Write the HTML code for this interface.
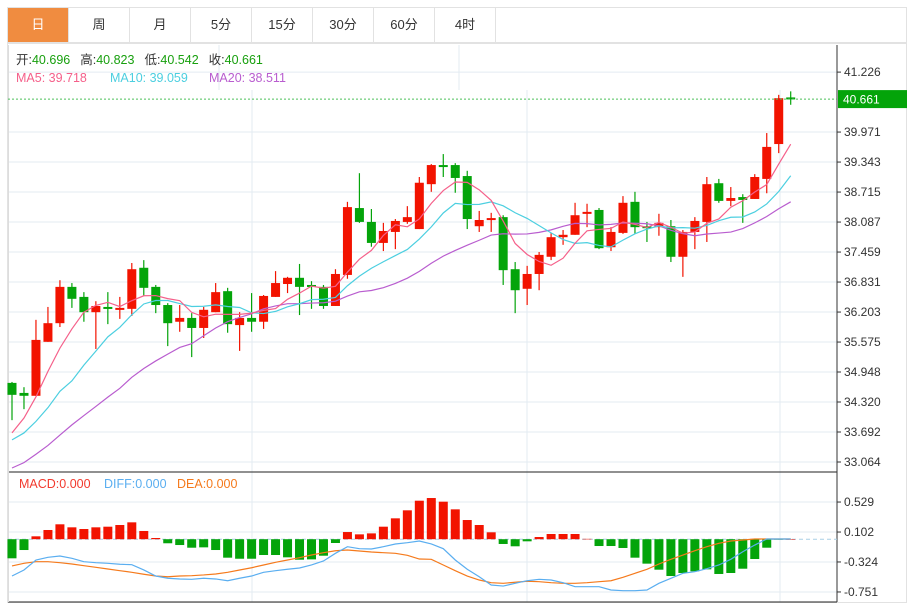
<!DOCTYPE html>
<html><head><meta charset="utf-8">
<style>
body{margin:0;width:918px;height:604px;background:#fff;overflow:hidden;font-family:"Liberation Sans","Noto Sans CJK SC",sans-serif;}
#tabs{position:absolute;left:7px;top:7px;height:36px;width:900px;border:1px solid #e2e2e2;box-sizing:border-box;display:flex;}
.tab{width:61px;height:34px;line-height:34px;text-align:center;font-size:13px;color:#333;border-right:1px solid #e2e2e2;box-sizing:border-box;cursor:pointer;}
.tab.active{background:#f08c40;color:#fff;}
svg{position:absolute;left:0;top:0;}
</style></head><body>
<div id="tabs">
<div class="tab active">日</div>
<div class="tab">周</div>
<div class="tab">月</div>
<div class="tab">5分</div>
<div class="tab">15分</div>
<div class="tab">30分</div>
<div class="tab">60分</div>
<div class="tab">4时</div>
</div>
<svg id="chart" width="918" height="604"></svg>
<script>
const opens=[34.72,34.51,34.45,35.58,35.97,36.73,36.52,36.20,36.31,36.27,36.27,37.13,36.73,36.35,36.00,36.08,35.87,36.20,36.64,35.93,36.08,36.00,36.52,36.79,36.92,36.77,36.73,36.33,36.98,38.38,38.09,37.65,37.88,38.09,37.94,38.88,39.28,39.28,39.05,38.00,38.13,38.19,37.10,36.69,37.00,37.36,37.77,37.82,38.26,38.34,37.56,37.86,38.51,38.00,37.98,38.00,37.36,37.88,38.09,38.90,38.53,38.61,38.57,38.99,39.72,40.696];
const closes=[34.47,34.45,35.62,35.97,36.73,36.48,36.20,36.33,36.29,36.29,37.10,36.71,36.35,35.97,36.08,35.87,36.25,36.62,35.95,36.08,36.00,36.54,36.81,36.92,36.73,36.73,36.33,37.00,38.40,38.09,37.65,37.90,38.11,38.19,38.91,39.28,39.24,39.01,38.15,38.13,38.17,37.08,36.66,37.00,37.40,37.77,37.82,38.23,38.30,37.54,37.88,38.49,37.98,37.98,38.07,37.36,37.88,38.11,38.88,38.53,38.59,38.55,39.03,39.66,40.68,40.661];
const highs=[34.74,34.63,36.04,36.31,36.87,36.81,36.62,36.43,36.62,36.52,37.23,37.29,36.77,36.39,36.35,36.18,36.31,36.81,36.71,36.20,36.60,36.56,37.06,36.94,37.21,36.85,36.77,37.10,38.51,39.11,38.36,38.07,38.15,38.42,39.03,39.30,39.51,39.32,39.16,38.32,38.28,38.23,37.25,37.17,37.46,37.86,37.92,38.49,38.47,38.38,37.98,38.63,38.72,38.09,38.26,38.13,37.92,38.19,39.03,38.99,38.82,38.67,39.09,39.95,40.75,40.823];
const lows=[33.94,34.17,34.45,35.58,35.89,36.29,36.00,35.43,35.95,36.06,36.12,36.54,36.18,35.49,35.79,35.26,35.66,36.20,35.77,35.39,35.79,35.85,36.52,36.60,36.14,36.27,36.27,36.33,36.90,38.07,37.57,37.48,37.52,38.05,37.94,38.72,39.03,38.70,37.94,37.88,37.88,36.77,36.18,36.35,36.66,37.29,37.61,37.82,37.98,37.52,37.48,37.84,37.84,37.67,37.80,37.25,36.94,37.52,37.67,38.49,38.42,38.07,38.57,38.69,39.53,40.542];
const historyCloses=[32.2,32.1,32.3,32.4,32.2,32.3,32.5,32.4,32.6,32.5,33.0,33.2,33.1,33.3,34.3,32.9,33.4,33.3,34.3];
const priceTicks=[41.226,39.971,39.343,38.715,38.087,37.459,36.831,36.203,35.575,34.948,34.320,33.692,33.064];
const macdBars=[-0.272,-0.154,0.041,0.131,0.212,0.169,0.145,0.169,0.178,0.202,0.240,0.117,0.017,-0.058,-0.083,-0.121,-0.116,-0.154,-0.263,-0.278,-0.278,-0.225,-0.225,-0.258,-0.292,-0.287,-0.235,-0.054,0.102,0.069,0.083,0.178,0.297,0.411,0.548,0.586,0.534,0.425,0.273,0.202,0.098,-0.068,-0.101,-0.030,0.031,0.074,0.074,0.074,0.005,-0.097,-0.097,-0.125,-0.263,-0.348,-0.434,-0.524,-0.481,-0.457,-0.429,-0.495,-0.481,-0.420,-0.282,-0.121,-0.005,0.000];
const diffLine=[-0.524,-0.438,-0.296,-0.258,-0.239,-0.272,-0.320,-0.334,-0.343,-0.357,-0.363,-0.438,-0.524,-0.556,-0.566,-0.571,-0.556,-0.566,-0.591,-0.556,-0.524,-0.471,-0.448,-0.428,-0.410,-0.367,-0.310,-0.201,-0.107,-0.135,-0.139,-0.107,-0.068,-0.050,-0.026,-0.068,-0.135,-0.296,-0.428,-0.534,-0.652,-0.667,-0.628,-0.591,-0.571,-0.581,-0.619,-0.676,-0.676,-0.676,-0.723,-0.733,-0.733,-0.723,-0.628,-0.556,-0.485,-0.462,-0.420,-0.367,-0.286,-0.178,-0.083,0.003,0.003,0.003];
const deaLine=[-0.381,-0.343,-0.320,-0.320,-0.334,-0.353,-0.377,-0.400,-0.424,-0.448,-0.471,-0.499,-0.524,-0.534,-0.524,-0.519,-0.509,-0.495,-0.471,-0.438,-0.406,-0.367,-0.329,-0.296,-0.263,-0.225,-0.192,-0.164,-0.154,-0.168,-0.182,-0.192,-0.201,-0.229,-0.282,-0.286,-0.367,-0.448,-0.524,-0.581,-0.619,-0.628,-0.613,-0.599,-0.605,-0.619,-0.628,-0.628,-0.619,-0.605,-0.591,-0.542,-0.485,-0.428,-0.353,-0.286,-0.225,-0.164,-0.107,-0.058,-0.026,-0.011,0.003,0.003,0.003,0.003];
const macdTicks=[0.529,0.102,-0.324,-0.751];

const NS='http://www.w3.org/2000/svg';
const svg=document.getElementById('chart');
function el(tag,attrs,parent){const e=document.createElementNS(NS,tag);for(const k in attrs)e.setAttribute(k,attrs[k]);(parent||svg).appendChild(e);return e;}
const PL=8,PR=837,PT=45,PB=472,MT=472,MB=602;
const xAt=i=>12+i*11.98;
const yP=v=>462-(v-33.064)*47.77;
const yM=v=>539.2-v*70.26;

// frame & grid
const grid=el('g',{});


[219,459].forEach(x=>el('line',{x1:x,x2:x,y1:PT,y2:90,stroke:'#e3ebf2'},grid));
[252,527,780].forEach(x=>{el('line',{x1:x,x2:x,y1:90,y2:PB,stroke:'#e3ebf2'},grid);el('line',{x1:x,x2:x,y1:MT,y2:MB,stroke:'#e3ebf2'},grid);});
priceTicks.forEach(t=>el('line',{x1:PL,x2:PR,y1:yP(t),y2:yP(t),stroke:'#e3ebf2'},grid));
macdTicks.forEach(t=>el('line',{x1:PL,x2:PR,y1:yM(t),y2:yM(t),stroke:'#e3ebf2'},grid));
el('rect',{x:7.5,y:43.5,width:899,height:559,fill:'none',stroke:'#e2e2e2'});
el('line',{x1:PL,x2:PR,y1:472,y2:472,stroke:'#222'});
el('line',{x1:PL,x2:PR,y1:602,y2:602,stroke:'#222'});
el('line',{x1:PR,x2:PR,y1:PT,y2:MB,stroke:'#333'});
el('line',{x1:8.5,x2:8.5,y1:PT,y2:MB,stroke:'#ddd'});

// price axis
const pax=el('g',{});


priceTicks.forEach(t=>{const y=yP(t);el('line',{x1:PR,x2:PR+4,y1:y,y2:y,stroke:'#333'},pax);const tx=el('text',{x:PR+7,y:y+4,'font-size':12,fill:'#333'},pax);tx.textContent=t.toFixed(3);});
const max=el('g',{});


macdTicks.forEach(t=>{const y=yM(t);el('line',{x1:PR,x2:PR+4,y1:y,y2:y,stroke:'#333'},max);const tx=el('text',{x:PR+7,y:y+4,'font-size':12,fill:'#333'},max);tx.textContent=t.toFixed(3);});

// moving averages
const allC=historyCloses.concat(closes);
function ma(n){return closes.map((c,i)=>{const j=i+historyCloses.length;let s=0;for(let k=j-n+1;k<=j;k++)s+=allC[k];return s/n;});}
function line(vals,yf,color,name){const p=el('polyline',{points:vals.map((v,i)=>xAt(i)+','+yf(v)).join(' '),fill:'none',stroke:color,'stroke-width':1.2});


return p;}

// candles
const cg=el('g',{});


opens.forEach((o,i)=>{const c=closes[i];const up=c>=o;const col=up?'#f21300':'#04a40a';const x=xAt(i);
const g=el('g',{},cg);


el('line',{x1:x,x2:x,y1:yP(highs[i]),y2:yP(lows[i]),stroke:col,'stroke-width':1.2},g);
const top=Math.min(yP(o),yP(c)),h=Math.max(2,Math.abs(yP(o)-yP(c)));
el('rect',{x:x-4.5,y:top,width:9,height:h,fill:col},g);});

line(ma(20),yP,'#b95dcf','ma20-line');
line(ma(10),yP,'#4ccfe0','ma10-line');
line(ma(5),yP,'#f5608a','ma5-line');

// last price
const last=closes[closes.length-1];
el('line',{x1:PL,x2:PR,y1:yP(last),y2:yP(last),stroke:'#4cc05a','stroke-dasharray':'2,2'});
const lb=el('rect',{x:838,y:yP(last)-9,width:69,height:18,fill:'#04a40a'});


const lt=el('text',{x:843,y:yP(last)+4.5,'font-size':12,fill:'#fff'});lt.textContent=last.toFixed(3);

// macd
const mg=el('g',{});


el('line',{x1:PL,x2:PR,y1:yM(0),y2:yM(0),stroke:'#a9cfe6','stroke-dasharray':'4,3'},mg);
macdBars.forEach((v,i)=>{const y0=yM(0),y1=yM(v);
const r=el('rect',{x:xAt(i)-4.5,y:Math.min(y0,y1),width:9,height:Math.max(0.5,Math.abs(y1-y0)),fill:v>=0?'#f21300':'#04a40a'},mg);

});
line(deaLine,yM,'#f57a1c','dea-line');
line(diffLine,yM,'#5aaef0','diff-line');

// legends
function txt(x,y,s,col,name){const t=el('text',{x:x,y:y,'font-size':12.5,fill:col});t.textContent=s;

return t;}
const info=el('text',{x:16,y:64,'font-size':12.5,fill:'#333'});


info.innerHTML='<tspan>开:</tspan><tspan fill="#18a00e">40.696</tspan><tspan dx="10">高:</tspan><tspan fill="#18a00e">40.823</tspan><tspan dx="10">低:</tspan><tspan fill="#18a00e">40.542</tspan><tspan dx="10">收:</tspan><tspan fill="#18a00e">40.661</tspan>';
txt(16,82,'MA5: 39.718','#f5608a','ma5-legend');
txt(110,82,'MA10: 39.059','#4ccfe0','ma10-legend');
txt(209,82,'MA20: 38.511','#b95dcf','ma20-legend');
txt(19,488,'MACD:0.000','#f23a2e','macd-legend');
txt(104,488,'DIFF:0.000','#5aaef0','diff-legend');
txt(177,488,'DEA:0.000','#f57a1c','dea-legend');
</script>
</body></html>
